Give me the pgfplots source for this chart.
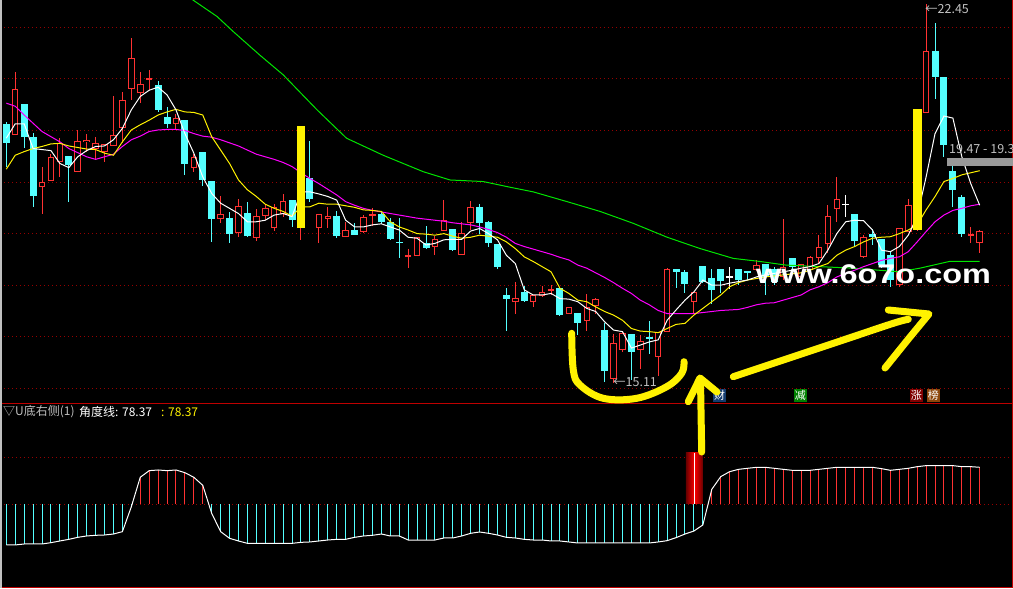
\documentclass[border=0pt]{standalone}
\usepackage{fontspec}
\setmainfont{Liberation Sans}
\newfontfamily\cjk{Noto Sans CJK SC}
\usepackage{pgfplots}
\usepackage{pgfplotstable}
\pgfplotsset{compat=1.18}
\definecolor{upred}{RGB}{255,50,50}
\definecolor{dncyan}{RGB}{84,255,255}
\definecolor{magma}{RGB}{255,0,255}
\definecolor{ma60}{RGB}{0,230,0}
\definecolor{gridred}{RGB}{150,0,0}
\definecolor{bordred}{RGB}{190,0,0}
\definecolor{lgray}{RGB}{192,192,192}
\definecolor{navybox}{RGB}{20,60,110}
\definecolor{greenbox}{RGB}{0,128,0}
\definecolor{redbox}{RGB}{128,0,0}
\definecolor{brownbox}{RGB}{140,70,10}

\pgfplotstableread{
i o h l c
1 19.91 21.14 19.91 20.80
4 18.90 19.30 18.39 19.01
5 19.03 19.54 19.03 19.48
6 19.38 19.85 19.10 19.76
8 19.20 20.01 19.20 19.79
9 19.78 19.94 19.59 19.82
10 19.65 19.88 19.44 19.76
11 19.59 19.74 19.39 19.74
12 19.69 20.67 19.69 19.91
13 20.05 20.75 19.75 20.59
14 20.80 21.80 20.60 21.40
15 20.72 21.14 20.53 20.91
16 20.98 21.17 20.78 21.01
19 20.12 20.32 20.02 20.25
21 19.28 19.54 19.20 19.48
24 18.29 18.73 18.21 18.38
26 18.02 18.67 17.93 18.53
28 17.91 18.47 17.86 18.35
29 18.35 18.57 18.26 18.49
30 18.10 18.57 18.06 18.52
31 18.39 18.77 18.32 18.63
33 18.15 20.09 17.88 20.00
35 18.10 18.39 17.82 18.39
36 18.29 18.51 18.10 18.35
38 17.94 18.23 17.93 18.07
40 18.04 18.36 18.01 18.33
41 18.35 18.49 18.15 18.38
45 17.55 17.71 17.34 17.58
46 17.57 17.93 17.57 17.93
48 17.75 17.95 17.58 17.89
49 18.06 18.65 18.06 18.26
51 17.59 18.22 17.59 18.02
52 18.20 18.63 18.07 18.52
57 16.67 17.07 16.45 16.76
59 16.68 16.81 16.58 16.81
60 16.80 16.98 16.78 16.87
61 16.89 17.01 16.81 16.92
63 16.44 16.57 16.44 16.57
65 16.31 16.83 16.12 16.58
66 16.60 16.76 16.45 16.73
68 15.19 16.05 15.11 15.87
69 15.74 16.10 15.71 16.07
71 15.74 16.03 15.37 15.92
73 15.60 16.10 15.23 16.10
74 16.09 17.33 16.09 17.31
77 16.68 16.87 16.45 16.87
84 17.29 17.49 17.27 17.40
87 17.16 18.28 17.10 17.36
89 17.16 17.41 17.15 17.41
90 17.29 17.57 17.23 17.55
91 17.53 17.97 17.42 17.75
92 17.79 18.55 17.62 18.35
93 18.47 19.10 18.23 18.68
96 17.55 17.97 17.52 17.93
100 17.00 18.10 16.96 18.10
101 18.04 18.68 18.04 18.55
102 18.10 20.40 18.05 20.30
103 20.33 22.45 20.33 21.54
108 17.96 18.12 17.82 17.99
109 17.82 18.08 17.62 18.05
}\upT

\pgfplotstableread{
i o h l c
0 20.13 20.17 19.30 19.76
2 20.51 20.51 19.67 19.88
3 19.88 19.96 18.52 18.72
7 19.50 19.50 18.62 19.33
17 20.89 20.96 20.36 20.40
18 20.27 20.46 20.04 20.13
20 20.20 20.20 19.14 19.35
22 19.58 19.58 18.93 19.04
23 19.02 19.02 17.84 18.29
25 18.30 18.42 17.82 18.00
27 18.40 18.61 17.94 17.96
32 18.66 18.66 18.13 18.26
34 19.08 19.80 18.62 18.67
37 18.35 18.44 17.91 17.95
39 18.07 18.20 17.97 17.97
42 18.39 18.43 18.19 18.22
43 18.23 18.30 17.88 17.90
44 17.84 18.30 17.53 17.82
47 17.81 18.15 17.71 17.73
50 18.09 18.09 17.67 17.68
53 18.52 18.57 18.00 18.21
54 18.22 18.25 17.75 17.82
55 17.80 17.80 17.31 17.36
56 16.81 16.94 16.11 16.74
58 16.87 16.98 16.68 16.70
62 16.95 16.95 16.40 16.42
64 16.47 16.47 16.03 16.27
67 16.14 16.27 15.13 15.34
70 16.05 16.05 15.16 15.71
72 15.99 16.31 15.67 15.96
75 17.31 17.31 16.94 17.26
76 17.25 17.29 16.84 17.02
78 17.38 17.38 17.04 17.07
79 17.13 17.31 16.63 16.91
80 17.31 17.31 16.85 17.09
82 17.31 17.31 17.00 17.10
83 17.28 17.28 17.10 17.23
85 17.42 17.42 16.81 17.16
86 17.32 17.35 17.00 17.06
88 17.53 17.53 17.29 17.36
95 18.39 18.39 17.75 17.86
97 18.00 18.08 17.78 17.93
98 17.90 17.90 17.33 17.39
99 17.58 17.65 16.97 17.10
104 21.54 22.09 20.61 21.04
105 21.04 21.04 19.49 19.72
106 19.21 19.31 18.51 18.85
107 18.71 18.75 17.94 17.99
}\dnT

\pgfplotstableread{
i o h l c
81 17.16 17.36 16.92 17.16
94 18.57 18.75 18.33 18.57
}\flatT

\pgfplotstableread{
i lo hi
33 18.10 20.09
102 18.07 20.42
}\yelT

\pgfplotstableread{
i v
0 -87.5
1 -87.5
2 -85.4
3 -85.4
4 -85.4
5 -82.6
6 -79.0
7 -75.5
8 -71.2
9 -68.3
10 -66.9
11 -66.2
12 -64.1
13 -59.1
14 -6
15 57
16 71.2
17 72.6
18 71.2
19 72.6
20 66.9
21 57
22 39.9
23 -19.9
24 -59
25 -73.3
26 -79
27 -84
28 -84
29 -84
30 -84
31 -84
32 -84
33 -81.9
34 -81.1
35 -79
36 -76.9
37 -75.5
38 -75.5
39 -71.2
40 -68.3
41 -66.9
42 -64.1
43 -68.3
44 -68.3
45 -76.9
46 -76.9
47 -76.9
48 -76.9
49 -72.6
50 -72.6
51 -68.3
52 -62.6
53 -59.8
54 -62.6
55 -66.2
56 -71.2
57 -72.6
58 -75.5
59 -76.9
60 -76.9
61 -79
62 -79
63 -81.1
64 -83.3
65 -83.3
66 -83.3
67 -83.3
68 -83.3
69 -83.3
70 -83.3
71 -83.3
72 -83.3
73 -81.1
74 -78.3
75 -71.9
76 -64.1
77 -57.7
78 -44.8
79 31.3
80 58.4
81 69.0
82 74.0
83 76.2
84 78.3
85 78.3
86 76.2
87 74.0
88 71.9
89 71.9
90 71.9
91 74.0
92 76.2
93 78.3
94 78.3
95 78.3
96 78.3
97 78.3
98 75.5
99 71.9
100 74.0
101 76.2
102 79.7
103 81.9
104 81.9
105 81.9
106 81.9
107 79.7
108 79.7
109 78.37
}\angT

\pgfplotsset{
  errline/.style 2 args={draw=none, mark=none,
    error bars/.cd, y dir=both, y explicit, error mark=none,
    error bar style={draw=#1, line width=#2}},
  pnl/.style={scale only axis, width=1013pt, xmin=-0.705, xmax=112.73,
    axis line style={draw=none}, xtick=\empty, ytick=\empty},
}

\begin{document}
\begin{tikzpicture}
\fill[black] (0,0) rectangle (1013pt,588pt);
% dotted grid lines (image pixel coordinates)
\begin{scope}[x=1pt, y=-1pt, yshift=588pt, gridred, line width=1pt, dash pattern=on 1pt off 3pt]
\foreach \gy in {27.5,78.5,130.5,182.5,233.5,285.5,336.5,388.5,457.5,504.5}
  \draw (4,\gy) -- (1011,\gy);
\end{scope}

% ---------- upper price panel ----------
\begin{axis}[pnl, at={(0pt,184.7pt)}, anchor=south west, height=403.3pt,
  ymin=14.71, ymax=22.53]
% wicks
\addplot[errline={upred}{1pt}] table[x=i, y expr={(\thisrow{h}+\thisrow{l})/2}, y error expr={(\thisrow{h}-\thisrow{l})/2}] {\upT};
\addplot[errline={dncyan}{1pt}] table[x=i, y expr={(\thisrow{h}+\thisrow{l})/2}, y error expr={(\thisrow{h}-\thisrow{l})/2}] {\dnT};
\addplot[errline={white}{1pt}] table[x=i, y expr={(\thisrow{h}+\thisrow{l})/2}, y error expr={(\thisrow{h}-\thisrow{l})/2}] {\flatT};
% bodies
\addplot[errline={upred}{6.5pt}] table[x=i, y expr={(\thisrow{o}+\thisrow{c})/2}, y error expr={max(abs(\thisrow{c}-\thisrow{o})/2,0.017)}] {\upT};
\addplot[errline={black}{4.5pt}] table[x=i, y expr={(\thisrow{o}+\thisrow{c})/2}, y error expr={max(abs(\thisrow{c}-\thisrow{o})/2-0.0194,0)}] {\upT};
\addplot[errline={dncyan}{7pt}] table[x=i, y expr={(\thisrow{o}+\thisrow{c})/2}, y error expr={max(abs(\thisrow{c}-\thisrow{o})/2,0.017)}] {\dnT};
\addplot[errline={white}{7pt}] table[x=i, y expr={(\thisrow{o}+\thisrow{c})/2}, y error expr={0.012}] {\flatT};
% moving averages
\addplot[ma60, line width=1pt] coordinates {(14,23.5)(20.9,22.53)(23.6,22.21)(25.4,21.92)(28.4,21.46)(31.0,21.08)(34.8,20.40)(38.1,19.85)(42.2,19.52)(46.7,19.20)(49.7,19.04)(53.4,19.01)(56.4,18.90)(59.0,18.81)(62.8,18.62)(66.5,18.43)(70.2,18.20)(74.0,17.93)(77.7,17.71)(81.4,17.52)(84.4,17.46)(87.3,17.39)(94.8,17.33)(100.0,17.26)(102.3,17.33)(105.6,17.46)(109,17.46)};
\addplot[magma, line width=1pt] coordinates {(0,20.53)(1,20.47)(2,20.30)(3,20.14)(4,19.98)(5,19.88)(6,19.78)(7,19.65)(8,19.57)(9,19.49)(10,19.44)(11,19.49)(12,19.54)(13,19.69)(14,19.82)(15,19.89)(16,19.98)(17,20.01)(18,20.02)(19,20.02)(20,20.00)(21,19.94)(22,19.89)(23,19.87)(24,19.82)(25,19.76)(26,19.70)(27,19.62)(28,19.54)(29,19.49)(30,19.44)(31,19.38)(32,19.30)(33,19.18)(34,19.07)(35,18.97)(36,18.86)(37,18.75)(38,18.62)(39,18.55)(40,18.49)(41,18.45)(42,18.42)(43,18.39)(44,18.36)(45,18.33)(46,18.30)(47,18.28)(48,18.26)(49,18.24)(50,18.21)(51,18.19)(52,18.17)(53,18.13)(54,18.08)(55,18.02)(56,17.93)(57,17.81)(58,17.75)(59,17.70)(60,17.65)(61,17.60)(62,17.54)(63,17.49)(64,17.39)(65,17.33)(66,17.24)(67,17.15)(68,17.05)(69,16.94)(70,16.84)(71,16.71)(72,16.62)(73,16.51)(74,16.45)(75,16.45)(76,16.45)(77,16.45)(78,16.47)(79,16.49)(80,16.51)(81,16.52)(82,16.53)(83,16.57)(84,16.62)(85,16.65)(86,16.66)(87,16.71)(88,16.76)(89,16.81)(90,16.91)(91,16.97)(92,17.05)(93,17.16)(94,17.23)(95,17.29)(96,17.36)(97,17.42)(98,17.48)(99,17.52)(100,17.55)(101,17.65)(102,17.84)(103,18.04)(104,18.23)(105,18.36)(106,18.45)(107,18.49)(108,18.54)(109,18.57)};
\addplot[yellow, line width=1pt] coordinates {(0,19.25)(1,19.52)(2,19.59)(3,19.65)(4,19.69)(5,19.74)(6,19.75)(7,19.70)(8,19.67)(9,19.64)(10,19.63)(11,19.56)(12,19.52)(13,19.78)(14,20.01)(15,20.11)(16,20.20)(17,20.30)(18,20.36)(19,20.41)(20,20.36)(21,20.35)(22,20.30)(23,19.88)(24,19.62)(25,19.36)(26,19.04)(27,18.85)(28,18.72)(29,18.57)(30,18.49)(31,18.43)(32,18.34)(33,18.52)(34,18.52)(35,18.59)(36,18.57)(37,18.57)(38,18.54)(39,18.51)(40,18.46)(41,18.45)(42,18.43)(43,18.23)(44,18.13)(45,18.07)(46,18.00)(47,17.99)(48,17.97)(49,18.00)(50,17.95)(51,17.91)(52,17.93)(53,17.97)(54,17.95)(55,17.93)(56,17.84)(57,17.71)(58,17.55)(59,17.46)(60,17.36)(61,17.26)(62,16.94)(63,16.84)(64,16.71)(65,16.68)(66,16.58)(67,16.49)(68,16.42)(69,16.32)(70,16.16)(71,16.11)(72,16.10)(73,16.08)(74,16.16)(75,16.24)(76,16.26)(77,16.42)(78,16.55)(79,16.68)(80,16.81)(81,16.97)(82,17.05)(83,17.10)(84,17.13)(85,17.16)(86,17.18)(87,17.20)(88,17.22)(89,17.24)(90,17.29)(91,17.36)(92,17.42)(93,17.58)(94,17.68)(95,17.75)(96,17.84)(97,17.91)(98,17.93)(99,17.94)(100,18.00)(101,18.07)(102,18.17)(103,18.46)(104,18.72)(105,19.01)(106,19.07)(107,19.14)(108,19.18)(109,19.22)};
\addplot[white, line width=1pt] coordinates {(0,19.85)(1,20.13)(2,20.13)(3,19.65)(4,19.63)(5,19.61)(6,19.36)(7,19.28)(8,19.49)(9,19.61)(10,19.69)(11,19.70)(12,19.82)(13,20.04)(14,20.40)(15,20.66)(16,20.78)(17,20.84)(18,20.69)(19,20.40)(20,19.94)(21,19.56)(22,19.10)(23,18.78)(24,18.59)(25,18.49)(26,18.39)(27,18.23)(28,18.23)(29,18.26)(30,18.36)(31,18.39)(32,18.33)(33,18.81)(34,18.81)(35,18.77)(36,18.72)(37,18.65)(38,18.26)(39,18.13)(40,18.13)(41,18.17)(42,18.19)(43,18.13)(44,18.07)(45,17.93)(46,17.91)(47,17.78)(48,17.81)(49,17.88)(50,17.89)(51,17.89)(52,18.05)(53,18.10)(54,18.00)(55,17.88)(56,17.58)(57,17.42)(58,16.91)(59,16.81)(60,16.81)(61,16.84)(62,16.74)(63,16.73)(64,16.68)(65,16.55)(66,16.49)(67,16.29)(68,16.13)(69,16.10)(70,15.78)(71,15.84)(72,15.90)(73,15.94)(74,16.32)(75,16.52)(76,16.71)(77,16.87)(78,17.10)(79,17.00)(80,17.00)(81,17.04)(82,17.07)(83,17.10)(84,17.16)(85,17.20)(86,17.23)(87,17.26)(88,17.29)(89,17.33)(90,17.36)(91,17.42)(92,17.68)(93,18.00)(94,18.23)(95,18.26)(96,18.25)(97,18.07)(98,17.68)(99,17.65)(100,17.75)(101,17.97)(102,18.33)(103,19.10)(104,19.94)(105,20.28)(106,20.24)(107,19.49)(108,18.97)(109,18.55)};
% yellow signal bars
\addplot[errline={yellow}{8.7pt}] table[x=i, y expr={(\thisrow{lo}+\thisrow{hi})/2}, y error expr={(\thisrow{hi}-\thisrow{lo})/2}] {\yelT};
\end{axis}

% ---------- lower indicator panel ----------
\begin{axis}[pnl, at={(0pt,0pt)}, anchor=south west, height=184.7pt,
  ymin=-179.4, ymax=215]
\addplot[restrict y to domain=-500:0, errline={dncyan}{1pt}] table[x=i, y expr={\thisrow{v}/2}, y error expr={abs(\thisrow{v})/2}] {\angT};
\addplot[restrict y to domain=0:500, errline={upred}{1pt}] table[x=i, y expr={\thisrow{v}/2}, y error expr={abs(\thisrow{v})/2}] {\angT};
\addplot[ybar, bar width=1.9, draw=none, shading=axis, shading angle=90, left color=red!40!black, right color=red!40!black, middle color=red] coordinates {(77.05,109.6)};
\addplot[errline={white}{1pt}] coordinates {(77.05,54.8) +- (0,54.8)};
\addplot[white, line width=1pt] table[x=i, y=v] {\angT};
\end{axis}

% ---------- overlay in image pixel coordinates ----------
\begin{scope}
\clip (0,0) rectangle (1013pt,588pt);
\begin{scope}[x=1pt, y=-1pt, yshift=588pt]
\draw[bordred, line width=1pt] (0,403.5) -- (1013,403.5);
\draw[bordred, line width=1pt] (0,587.5) -- (1013,587.5);
\draw[bordred, line width=1pt] (1012.5,0) -- (1012.5,588);
\draw[lgray, line width=2pt] (1,0) -- (1,588);
% price labels
\fill[gray!80] (947,158.3) rectangle (1013,165.7);
\node[anchor=west, inner sep=0pt, text=lgray, font=\cjk\fontsize{12.5}{14}\selectfont] at (949,149) {19.47 - 19.3};
\node[anchor=west, inner sep=0pt, text=lgray, font=\cjk\fontsize{12.5}{14}\selectfont] at (925,9) {←22.45};
\node[anchor=west, inner sep=0pt, text=lgray, font=\cjk\fontsize{12.5}{14}\selectfont] at (613,382.5) {←15.11};
% indicator title
\node[anchor=west, inner sep=0pt, text=lgray, font=\cjk\fontsize{12}{14}\selectfont] at (3,412) {▽U底右侧(1)};
\node[anchor=west, inner sep=0pt, text=white, font=\cjk\fontsize{12}{14}\selectfont] at (79,412) {角度线: 78.37};
\node[anchor=west, inner sep=0pt, text=yellow, font=\cjk\fontsize{12}{14}\selectfont] at (161,412) {: 78.37};
% small tag boxes
\node[fill=navybox, text=white, inner sep=0pt, minimum width=13pt, minimum height=13pt, font=\cjk\fontsize{11}{11}\selectfont] at (719.5,395.5) {财};
\node[fill=greenbox, text=white, inner sep=0pt, minimum width=13pt, minimum height=13pt, font=\cjk\fontsize{11}{11}\selectfont] at (800.3,395.5) {减};
\node[fill=redbox, text=white, inner sep=0pt, minimum width=13pt, minimum height=13pt, font=\cjk\fontsize{11}{11}\selectfont] at (916.3,395.5) {涨};
\node[fill=brownbox, text=white, inner sep=0pt, minimum width=13pt, minimum height=13pt, font=\cjk\fontsize{11}{11}\selectfont] at (933.3,395.5) {榜};
% watermark
\node[anchor=base west, inner sep=0pt, text=white] at (756,283) {\scalebox{1.2}[1]{\fontsize{27}{27}\selectfont\bfseries www.6o7o.com}};
% hand drawn yellow marks
\begin{scope}[yellow, line width=7pt, line cap=round, line join=round]
\draw plot[smooth, tension=0.6] coordinates {(571.7,333.3) (573.3,370) (580,385) (603.3,398.3) (636.7,398.3) (666.7,386.7) (681.7,373.3) (684,361.7)};
\draw (701.7,452) -- (700.5,380);
\draw (688.3,401.7) -- (700,378) -- (717,392);
\draw plot[smooth, tension=0.6] coordinates {(733.3,376.7) (793.3,356.7) (843.3,340) (893.3,323.3) (908.3,319.3)};
\draw (888.3,310) -- (929,314) -- (910,337) -- (885,368);
\end{scope}
\end{scope}
\end{scope}
\end{tikzpicture}
\end{document}
